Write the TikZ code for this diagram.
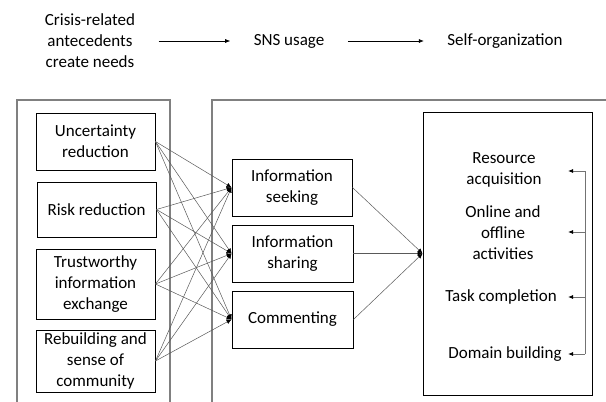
\documentclass[tikz,border=0pt]{standalone}
\usepackage{fontspec}
\setmainfont{Carlito}
\usetikzlibrary{arrows.meta}

\begin{document}
\begin{tikzpicture}[x=1pt, y=-1pt, font=\fontsize{17}{21}\selectfont,
   box/.style={draw, line width=0.9pt, align=center, inner sep=0pt},
   link/.style={draw=black!65, line width=0.5pt, -{Latex[length=5pt,width=4.5pt,color=black]}},
   tip/.style={-{Latex[length=5pt,width=4pt,color=black]}}]

\useasboundingbox (0,0) rectangle (606,402);

% headings along the top
   \node [align=center] at (90,41) (crisis) {Crisis-related\\antecedents\\create needs};
        \node at (289,41) (sns) {SNS usage};
             \node at (505,41) (selfo) {Self-organization};
\draw[tip, line width=0.6pt, shorten <=20pt, shorten >=20pt] (crisis)--(sns);
\draw[tip, line width=0.6pt, shorten <=20pt, shorten >=20pt] (sns)--(selfo);

% the two open panels
\draw [line width=1.2pt, black!50] (17,402) -- (17,100) -- (170,100) -- (170,402);
\draw [line width=1.2pt, black!50] (212,402) -- (212,100) -- (606,100);

% needs
     \node [box, minimum width=119, minimum height=57] at (95.5,141.5) (unc) {Uncertainty\\reduction};
     \node [box, minimum width=119, minimum height=55] at (96.5,209.5) (risk) {Risk reduction};
     \node [box, minimum width=119, minimum height=70] at (95.5,284) (trust) {Trustworthy\\information\\exchange};
     \node [box, minimum width=119, minimum height=62] at (95.5,361) (rebuild) {Rebuilding and\\sense of\\community};

% usage
          \node [box, minimum width=120, minimum height=57] at (292,187.5) (seek) {Information\\seeking};
          \node [box, minimum width=121, minimum height=57] at (292.5,253.5) (share) {Information\\sharing};
          \node [box, minimum width=121, minimum height=57] at (292.5,319.5) (cmt) {Commenting};

% outcomes
               \node [box, minimum width=169, minimum height=283] at (507.5,253.5) (outc) {};
               \node [align=center] at (504,170) (res) {Resource\\acquisition};
               \node [align=center] at (503,233) (onl) {Online and\\offline\\activities};
               \node at (501,297) (task) {Task completion};
               \node at (505,354) (dom) {Domain building};
%
\draw[link] (unc.east)--(seek.west);
\draw[link] (unc.east)--(share.west);
\draw[link] (unc.east)--(cmt.west);
\draw[link] (risk.east)--(seek.west);
\draw[link] (risk.east)--(share.west);
\draw[link] (risk.east)--(cmt.west);
\draw[link] (trust.east)--(seek.west);
\draw[link] (trust.east)--(share.west);
\draw[link] (trust.east)--(cmt.west);
\draw[link] (rebuild.east)--(seek.west);
\draw[link] (rebuild.east)--(share.west);
\draw[link] (rebuild.east)--(cmt.west);
\draw[link] (seek.east)--(outc.west);
\draw[link] (share.east)--(outc.west);
\draw[link] (cmt.east)--(outc.west);

% feedback bracket on the right
\coordinate (b1) at (585,171);  \coordinate (e1) at (568,171);
\coordinate (b2) at (585,232);  \coordinate (e2) at (568,232);
\coordinate (b3) at (585,297);  \coordinate (e3) at (568,297);
\coordinate (b4) at (585,354);  \coordinate (e4) at (568,354);
\draw [black!55, line width=0.8pt] (b1)--(b4);
\draw [black!55, line width=0.8pt, tip] (b1)--(e1);
\draw [black!55, line width=0.8pt, tip] (b2)--(e2);
\draw [black!55, line width=0.8pt, tip] (b3)--(e3);
\draw [black!55, line width=0.8pt, tip] (b4)--(e4);
%
\end{tikzpicture}
\end{document}
